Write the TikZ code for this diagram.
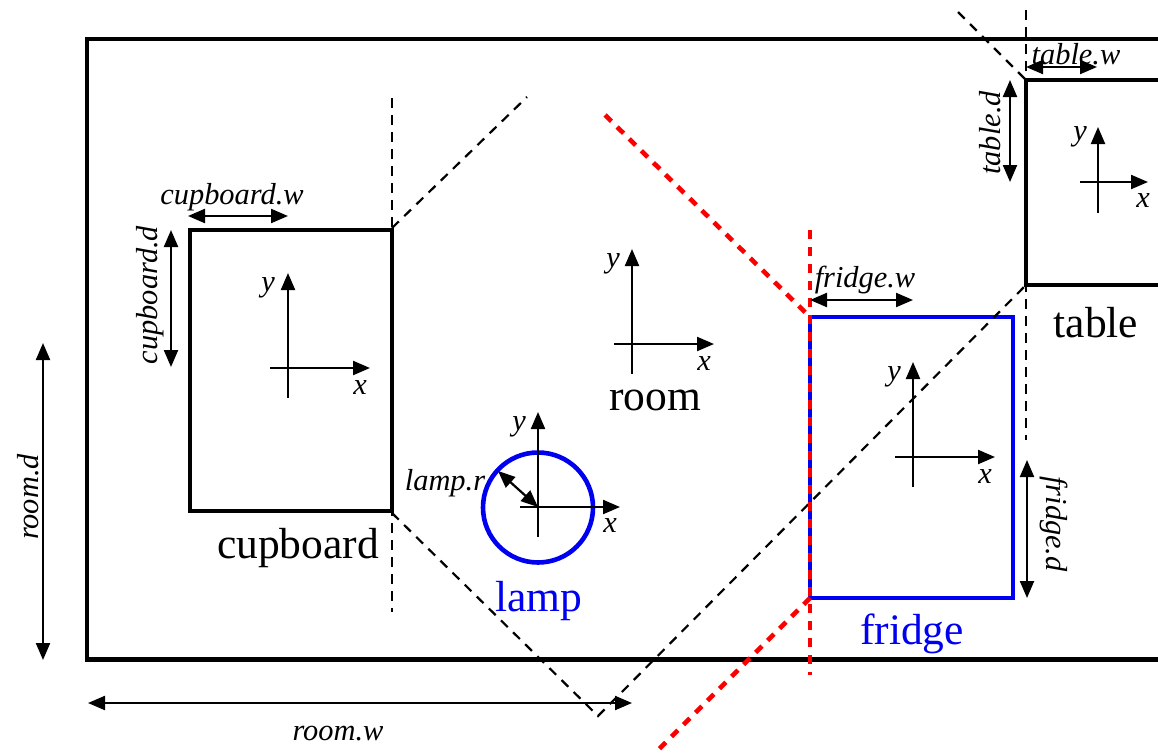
\documentclass[tikz,border=0pt]{standalone}
\usepackage{fontspec}
\setmainfont{Liberation Serif}
\usetikzlibrary{arrows.meta}
\definecolor{pureblue}{RGB}{0,0,240}
\definecolor{purered}{RGB}{250,0,0}
\tikzset{
  x=1pt,y=-1pt,
  wall/.style={draw=black,line width=4.6pt,line cap=butt,line join=miter},
  box/.style={draw=black,line width=4.6pt,inner sep=0pt,outer sep=0pt},
  bluebox/.style={draw=pureblue,line width=4.6pt,inner sep=0pt,outer sep=0pt},
  axis/.style={line width=2.2pt,-{Triangle[length=17pt,width=14pt]}},
  dim/.style={line width=2.2pt,{Triangle[length=17pt,width=14pt]}-{Triangle[length=17pt,width=14pt]}},
  guide/.style={line width=2.2pt,dash pattern=on 9.5pt off 7.5pt},
  redguide/.style={draw=purered,line width=4.6pt,dash pattern=on 9pt off 8pt},
  big/.style={font=\fontsize{43.5}{44}\selectfont,inner sep=0pt,yshift=-3pt},
  small/.style={font=\fontsize{30.4}{30}\selectfont\itshape,inner sep=0pt,yshift=-3pt},
}
\newcommand{\axescross}[7]{%
  \coordinate (#1c) at (#2,#3);
  \coordinate (#1xa) at (#4,#3);
  \coordinate (#1xb) at (#5,#3);
  \coordinate (#1ya) at (#2,#6);
  \coordinate (#1yb) at (#2,#7);
  \draw[axis] (#1xa) -- (#1xb);
  \draw[axis] (#1ya) -- (#1yb);
}
\begin{document}
\begin{tikzpicture}
\useasboundingbox (0,0) rectangle (1158,755);
% room walls
\coordinate (r1) at (1158,39);
\coordinate (r2) at (87,39);
\coordinate (r3) at (87,659.5);
\coordinate (r4) at (1158,659.5);
\draw[wall] (r1) -- (r2) -- (r3) -- (r4);
% table
\coordinate (t1) at (1158,80);
\coordinate (t2) at (1026,80);
\coordinate (t3) at (1026,285);
\coordinate (t4) at (1158,285);
\draw[box] (t1) -- (t2) -- (t3) -- (t4);
% cupboard, fridge, lamp
\node[box,minimum width=202pt,minimum height=281pt] (cupboard) at (291,370.5) {};
\node[bluebox,minimum width=203pt,minimum height=281pt] (fridge) at (911.5,457.5) {};
\node[circle,bluebox,minimum size=110pt] (lamp) at (538,507.5) {};
% guides
\coordinate (g1) at (392,98);
\coordinate (g2) at (392,612);
\coordinate (g3) at (527,97);
\coordinate (g4) at (392,228);
\coordinate (g5) at (392,513);
\coordinate (g6) at (598,716);
\coordinate (g7) at (958,12);
\coordinate (g8) at (1026,10);
\coordinate (g9) at (1026,440);
\draw[guide] (g1) -- (g2);
\draw[guide] (g4) -- (g3);
\draw[guide] (g5) -- (g6) -- (t3);
\draw[guide] (g7) -- (t2);
\draw[guide] (g8) -- (g9);
% red guides
\coordinate (h1) at (605,115);
\coordinate (h2) at (810,317);
\coordinate (h3) at (810,230);
\coordinate (h4) at (810,675);
\coordinate (h5) at (810,598);
\coordinate (h6) at (657,751);
\draw[redguide] (h1) -- (h2);
\draw[redguide] (h3) -- (h4);
\draw[redguide] (h5) -- (h6);
% axes
\axescross{ac}{288}{368}{270}{370}{398}{273}
\axescross{ar}{632}{344}{614}{714}{374}{249}
\axescross{al}{538}{507}{520}{620}{537}{412}
\axescross{af}{913}{457}{895}{995}{487}{362}
\axescross{at}{1098}{182}{1080}{1148}{213}{127}
% axis labels
\node[small] (lcx) at (360,385) {x};
\node[small] (lcy) at (268,285) {y};
\node[small] (lrx) at (704,361) {x};
\node[small] (lry) at (613,261) {y};
\node[small] (llx) at (610,523) {x};
\node[small] (lly) at (519,424) {y};
\node[small] (lfx) at (985,474) {x};
\node[small] (lfy) at (894,374) {y};
\node[small] (ltx) at (1143,198) {x};
\node[small] (lty) at (1080,134) {y};
% dimensions
\coordinate (d1a) at (188,216); \coordinate (d1b) at (288,216);
\coordinate (d2a) at (171,230); \coordinate (d2b) at (171,367);
\coordinate (d3a) at (43,343);  \coordinate (d3b) at (43,660);
\coordinate (d4a) at (88,703);  \coordinate (d4b) at (632,703);
\coordinate (d5a) at (1026,67); \coordinate (d5b) at (1097,67);
\coordinate (d6a) at (1010,80); \coordinate (d6b) at (1010,182);
\coordinate (d7a) at (810,300); \coordinate (d7b) at (913,300);
\coordinate (d8a) at (1027,460);\coordinate (d8b) at (1027,598);
\coordinate (d9a) at (498,471); \coordinate (d9b) at (538,507);
\draw[dim] (d1a) -- (d1b);
\draw[dim] (d2a) -- (d2b);
\draw[dim] (d3a) -- (d3b);
\draw[dim] (d4a) -- (d4b);
\draw[dim] (d5a) -- (d5b);
\draw[dim] (d6a) -- (d6b);
\draw[dim] (d7a) -- (d7b);
\draw[dim] (d8a) -- (d8b);
\draw[dim] (d9a) -- (d9b);
% dimension labels
\node[small] (n1) at (232,194) {cupboard.w};
\node[small,rotate=90] (n2) at (150,292) {cupboard.d};
\node[small,rotate=90] (n3) at (28,494) {room.d};
\node[small] (n4) at (338,731) {room.w};
\node[small] (n5) at (1076,51) {table.w};
\node[small,rotate=90] (n6) at (990,130) {table.d};
\node[small] (n7) at (865,277) {fridge.w};
\node[small,rotate=-90] (n8) at (1054,521) {fridge.d};
\node[small] (n9) at (445,480) {lamp.r};
% names
\node[big] (ncup) at (298,545) {cupboard};
\node[big] (nroom) at (655,397) {room};
\node[big] (ntable) at (1096,320) {table};
\node[big,text=pureblue] (nlamp) at (539,598) {lamp};
\node[big,text=pureblue] (nfridge) at (912,631) {fridge};
\end{tikzpicture}
\end{document}
